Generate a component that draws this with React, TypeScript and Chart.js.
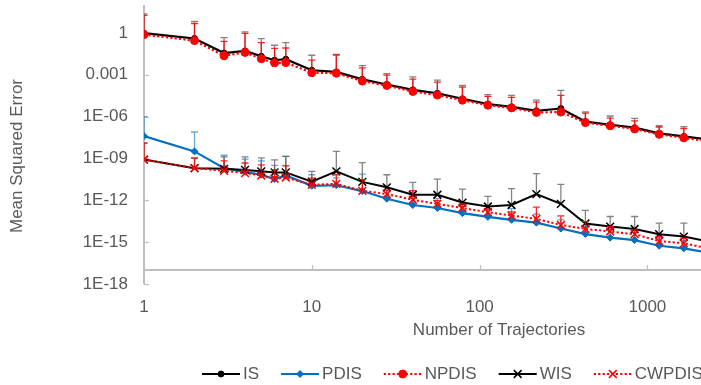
import { useEffect, useRef } from "react";
import { Chart, registerables } from "chart.js";

Chart.register(...registerables);

// Number of trajectories used for each estimate (x values).
const trajectories = [1, 2, 3, 4, 5, 6, 7, 10, 14, 20, 28, 40, 56, 79, 112, 155, 218, 305, 427, 600, 839, 1175, 1648, 2310];

// Mean squared error per estimator, with the upper end of each error bar.
const isMse = [0.95, 0.4, 0.036, 0.051, 0.021, 0.011, 0.013, 0.0021, 0.0016, 4.7e-4, 2.0e-4, 8.3e-5, 4.7e-5, 1.9e-5, 7.9e-6, 5.0e-6, 2.6e-6, 3.8e-6, 4.4e-7, 2.6e-7, 1.6e-7, 6.3e-8, 3.8e-8, 2.2e-8];
const isErrTop = [23, 6.8, 0.46, 1.2, 0.39, 0.13, 0.2, 0.025, 0.029, 0.0045, 0.0012, 7.1e-4, 4.1e-4, 1.7e-4, 3.7e-5, 3.3e-5, 1.5e-5, 7.6e-5, 2.2e-6, 1.1e-6, 7.4e-7, 2.2e-7, 1.9e-7];

const pdisMse = [4.0e-8, 3.2e-9, 2.0e-10, 1.1e-10, 6.8e-11, 3.3e-11, 6.0e-11, 1.1e-11, 1.2e-11, 4.6e-12, 1.3e-12, 4.6e-13, 2.8e-13, 1.2e-13, 6.5e-14, 4.0e-14, 2.5e-14, 9.5e-15, 3.8e-15, 2.1e-15, 1.4e-15, 5.5e-16, 3.6e-16, 1.8e-16];
const pdisErrTop = [1.0e-6, 7.9e-8, 1.7e-9, 8.9e-10, 6.8e-10, 3.2e-10, 1.4e-9, 6.8e-11, 4.0e-11, 7.6e-11, 5.0e-12, 2.5e-12, 1.3e-12, 5.0e-13, 2.5e-13, 2.5e-13, 1.0e-13, 4.0e-14, 1.3e-14, 7.9e-15, 5.0e-15, 2.0e-15, 1.3e-15];

const npdisMse = [0.76, 0.28, 0.023, 0.04, 0.014, 0.0071, 0.0074, 0.0014, 0.0013, 3.5e-4, 1.7e-4, 6.3e-5, 3.5e-5, 1.5e-5, 6.6e-6, 4.2e-6, 2.0e-6, 2.1e-6, 3.7e-7, 2.2e-7, 1.3e-7, 5.4e-8, 3.0e-8, 1.7e-8];
const npdisErrTop = [18, 4.7, 0.25, 0.93, 0.2, 0.079, 0.083, 0.011, 0.026, 0.0031, 9.3e-4, 4.9e-4, 3.0e-4, 1.3e-4, 2.8e-5, 2.4e-5, 1.1e-5, 3.3e-5, 1.8e-6, 7.9e-7, 5.0e-7, 1.8e-7, 1.4e-7];

const wisMse = [8.3e-10, 2.0e-10, 1.8e-10, 1.5e-10, 1.2e-10, 1.0e-10, 1.0e-10, 2.2e-11, 1.2e-10, 2.1e-11, 8.5e-12, 2.5e-12, 2.5e-12, 6.9e-13, 3.6e-13, 4.6e-13, 2.8e-12, 5.6e-13, 2.2e-14, 1.3e-14, 8.7e-15, 3.7e-15, 2.5e-15, 1.1e-15];
const wisErrTop = [1.2e-8, 1.0e-9, 1.3e-9, 1.3e-9, 1.1e-9, 7.9e-10, 1.4e-9, 1.2e-10, 3.2e-9, 5.1e-10, 6.8e-11, 1.9e-11, 3.3e-11, 6.3e-12, 1.9e-12, 6.9e-12, 8.3e-11, 1.4e-11, 1.9e-13, 6.9e-14, 6.9e-14, 2.3e-14, 2.3e-14];

const cwpdisMse = [8.3e-10, 2.0e-10, 1.3e-10, 8.9e-11, 6.0e-11, 3.5e-11, 4.3e-11, 1.3e-11, 1.5e-11, 4.8e-12, 2.8e-12, 1.1e-12, 5.5e-13, 2.8e-13, 1.4e-13, 8.1e-14, 4.7e-14, 1.7e-14, 8.9e-15, 5.8e-15, 3.7e-15, 1.2e-15, 8.3e-16, 3.5e-16];
const cwpdisErrTop = [1.3e-8, 1.1e-9, 6.8e-10, 4.7e-10, 3.5e-10, 1.6e-10, 3.0e-10, 3.9e-11, 6.8e-11, 3.0e-11, 5.6e-12, 5.0e-12, 9.5e-13, 5.5e-13, 2.3e-13, 1.5e-13, 3.2e-13, 7.6e-14, 3.0e-14, 1.3e-14, 7.6e-15, 2.5e-15, 1.9e-15];

// Axis ticks.
const yTickValues = [1e-18, 1e-15, 1e-12, 1e-9, 1e-6, 1e-3, 1];
const xTickValues = [1, 10, 100, 1000];

const FONT = '"Liberation Sans", Arial, sans-serif';
const TEXT = "#595959";
const AXIS = "#BFBFBF";
const W = 701;
const H = 385;

function formatMse(v: number): string {
  const e = Math.round(Math.log10(v));
  if (e >= 0) return String(Math.pow(10, e));
  if (e >= -3) return Math.pow(10, e).toFixed(-e);
  return "1E-" + String(-e).padStart(2, "0");
}

type Marker = "circle" | "rectRot" | "crossRot";

function drawMarker(ctx: CanvasRenderingContext2D, kind: Marker, x: number, y: number, r: number, color: string, lw: number) {
  ctx.save();
  ctx.setLineDash([]);
  ctx.fillStyle = color;
  ctx.strokeStyle = color;
  ctx.lineWidth = lw;
  ctx.beginPath();
  if (kind === "circle") {
    ctx.arc(x, y, r, 0, Math.PI * 2);
    ctx.fill();
    ctx.stroke();
  } else if (kind === "rectRot") {
    ctx.moveTo(x, y - r);
    ctx.lineTo(x + r, y);
    ctx.lineTo(x, y + r);
    ctx.lineTo(x - r, y);
    ctx.closePath();
    ctx.fill();
    ctx.stroke();
  } else {
    const d = r * Math.SQRT1_2;
    ctx.moveTo(x - d, y - d);
    ctx.lineTo(x + d, y + d);
    ctx.moveTo(x + d, y - d);
    ctx.lineTo(x - d, y + d);
    ctx.stroke();
  }
  ctx.restore();
}

function makeSeries(label: string, values: number[], errTop: number[], color: string, errColor: string, dashed: boolean, marker: Marker, radius: number, pointBorder: number, lineWidth: number, order: number) {
  return {
    label,
    data: trajectories.map((t, i) => ({ x: t, y: values[i] })),
    errTop,
    errColor,
    marker,
    borderColor: color,
    backgroundColor: color,
    borderWidth: lineWidth,
    borderDash: dashed ? [2.2, 2.2] : [],
    pointStyle: marker,
    pointRadius: radius,
    pointBorderWidth: pointBorder,
    pointBackgroundColor: color,
    pointBorderColor: color,
    tension: 0,
    order,
  };
}

const errorBarsPlugin = {
  id: "errorBars",
  beforeDatasetDraw(chart: any, args: any) {
    const ds = chart.data.datasets[args.index];
    const tops: number[] | undefined = ds.errTop;
    if (!tops) return;
    const { ctx, chartArea: a } = chart;
    const xs = chart.scales.x;
    const ys = chart.scales.y;
    ctx.save();
    ctx.beginPath();
    ctx.rect(a.left, a.top, a.right - a.left, a.bottom - a.top);
    ctx.clip();
    ctx.strokeStyle = ds.errColor;
    ctx.lineWidth = 1.3;
    ctx.setLineDash([]);
    ds.data.forEach((p: { x: number; y: number }, i: number) => {
      const top = tops[i];
      if (top == null) return;
      const px = xs.getPixelForValue(p.x);
      const py = ys.getPixelForValue(p.y);
      const pt = ys.getPixelForValue(top);
      ctx.beginPath();
      ctx.moveTo(px, py);
      ctx.lineTo(px, pt);
      ctx.moveTo(px - 3.5, pt);
      ctx.lineTo(px + 3.5, pt);
      ctx.stroke();
    });
    ctx.restore();
  },
};

const axesPlugin = {
  id: "axesAndTitles",
  beforeDatasetsDraw(chart: any) {
    const { ctx, chartArea: a } = chart;
    const xs = chart.scales.x;
    const ys = chart.scales.y;
    ctx.save();
    ctx.strokeStyle = AXIS;
    ctx.lineWidth = 2;
    // vertical value axis
    ctx.beginPath();
    ctx.moveTo(a.left, a.top);
    ctx.lineTo(a.left, a.bottom);
    ctx.stroke();
    ctx.lineWidth = 1.2;
    yTickValues.forEach((v) => {
      const py = Math.round(ys.getPixelForValue(v)) + 0.5;
      ctx.beginPath();
      ctx.moveTo(a.left, py);
      ctx.lineTo(a.left + 5, py);
      ctx.stroke();
    });
    // horizontal category axis crossing at 1E-17
    const cy = ys.getPixelForValue(1e-17);
    ctx.lineWidth = 2;
    ctx.beginPath();
    ctx.moveTo(a.left, cy);
    ctx.lineTo(a.right, cy);
    ctx.stroke();
    ctx.lineWidth = 1.2;
    xTickValues.forEach((v) => {
      const px = Math.round(xs.getPixelForValue(v)) + 0.5;
      ctx.beginPath();
      ctx.moveTo(px, cy);
      ctx.lineTo(px, cy - 5);
      ctx.stroke();
    });
    ctx.restore();
  },
  afterDraw(chart: any) {
    const { ctx, chartArea: a } = chart;
    ctx.save();
    ctx.fillStyle = TEXT;
    ctx.font = `17px ${FONT}`;
    ctx.textBaseline = "middle";
    ctx.textAlign = "center";
    // axis titles
    ctx.fillText("Number of Trajectories", a.left + 355, 330);
    ctx.save();
    ctx.translate(17, 156);
    ctx.rotate(-Math.PI / 2);
    ctx.fillText("Mean Squared Error", 0, 0);
    ctx.restore();

    // legend: line sample with marker, then the label
    ctx.textAlign = "left";
    const ly = 374;
    let lx = 202;
    const sample = 38;
    chart.data.datasets.forEach((ds: any) => {
      ctx.save();
      ctx.strokeStyle = ds.borderColor;
      ctx.lineWidth = 2.2;
      ctx.setLineDash(ds.borderDash);
      ctx.beginPath();
      ctx.moveTo(lx, ly);
      ctx.lineTo(lx + sample, ly);
      ctx.stroke();
      ctx.restore();
      drawMarker(ctx, ds.marker, lx + sample / 2, ly, ds.pointRadius, ds.borderColor, ds.pointBorderWidth);
      ctx.fillStyle = TEXT;
      ctx.fillText(ds.label, lx + sample + 3, ly);
      lx += sample + 3 + ctx.measureText(ds.label).width + 22;
    });
    ctx.restore();
  },
};

export default function App() {
  const canvasRef = useRef<HTMLCanvasElement | null>(null);

  useEffect(() => {
    const canvas = canvasRef.current;
    if (!canvas) return;
    const datasets = [
      makeSeries("IS", isMse, isErrTop, "#000000", "rgba(90,90,90,0.75)", false, "circle", 3, 1, 2.2, 5),
      makeSeries("PDIS", pdisMse, pdisErrTop, "#0070C0", "rgba(0,112,192,0.6)", false, "rectRot", 3.5, 1, 2.2, 4),
      makeSeries("NPDIS", npdisMse, npdisErrTop, "#FF0000", "rgba(255,0,0,0.85)", true, "circle", 4, 1, 2.2, 3),
      makeSeries("WIS", wisMse, wisErrTop, "#000000", "rgba(90,90,90,0.75)", false, "crossRot", 5.5, 1.5, 2, 2),
      makeSeries("CWPDIS", cwpdisMse, cwpdisErrTop, "#FF0000", "rgba(255,0,0,0.85)", true, "crossRot", 5.5, 1.5, 2, 1),
    ];

    const chart = new Chart(canvas, {
      type: "line",
      data: { datasets: datasets as any },
      options: {
        responsive: false,
        animation: false,
        events: [],
        layout: { autoPadding: false, padding: { top: 5, left: 0, right: 0, bottom: 0 } },
        plugins: {
          legend: { display: false },
          tooltip: { enabled: false },
          title: { display: false },
        },
        scales: {
          x: {
            type: "logarithmic",
            position: "bottom",
            min: 1,
            max: 2086,
            grid: { display: false, drawTicks: false },
            border: { display: false },
            ticks: {
              autoSkip: false,
              maxRotation: 0,
              padding: 13,
              color: TEXT,
              font: { family: FONT, size: 17 },
              callback: (v: any) => String(v),
            },
            afterBuildTicks: (s: any) => {
              s.ticks = xTickValues.map((v) => ({ value: v }));
            },
            afterFit: (s: any) => {
              s.height = 101;
              s.paddingLeft = 0;
              s.paddingRight = 0;
            },
          },
          y: {
            type: "logarithmic",
            min: 1e-18,
            max: 100,
            grid: { display: false, drawTicks: false },
            border: { display: false },
            ticks: {
              autoSkip: false,
              padding: 16,
              color: TEXT,
              font: { family: FONT, size: 17 },
              callback: (v: any) => formatMse(Number(v)),
            },
            afterBuildTicks: (s: any) => {
              s.ticks = yTickValues.map((v) => ({ value: v }));
            },
            afterFit: (s: any) => {
              s.width = 144;
              s.paddingTop = 0;
              s.paddingBottom = 0;
            },
          },
        },
      } as any,
      plugins: [axesPlugin, errorBarsPlugin],
    });

    return () => chart.destroy();
  }, []);

  return (
    <div style={{ position: "fixed", left: 0, top: 0, width: W, height: H, background: "#fff", overflow: "hidden" }}>
      <canvas ref={canvasRef} width={W} height={H} style={{ display: "block", width: W, height: H }} />
    </div>
  );
}
